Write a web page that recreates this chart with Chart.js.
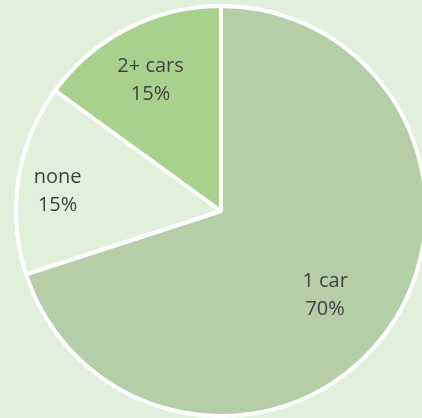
<!DOCTYPE html>
<html lang="en">
<head>
    <meta charset="UTF-8">
    <title>Cars per household</title>
    <script src="https://cdn.jsdelivr.net/npm/chart.js"></script>
    <style>
        html, body {
            margin: 0;
            padding: 0;
            width: 422px;
            height: 418px;
            overflow: hidden;
            background-color: #e2efda;
        }
        .chart-container {
            position: absolute;
            left: 14px;
            top: 4px;
            width: 414px;
            height: 414px;
        }
    </style>
</head>
<body>
    <div class="chart-container">
        <canvas id="carsChart"></canvas>
    </div>

    <script>
// data
const categories = ['1 car', 'none', '2+ cars'];
const shares = [70, 15, 15];
const sliceColors = ['#b4cea8', '#e2efda', '#a9d18e'];

// where each label sits: fraction of the radius and a small angle shift (degrees)
const labelPlace = [
    { f: 0.672, shift: 4.9 },
    { f: 0.80, shift: -4 },
    { f: 0.70, shift: -2.4 }
];

// draws "name / percent" inside each slice
const sliceLabels = {
    id: 'sliceLabels',
    afterDatasetsDraw(chart) {
        const ctx = chart.ctx;
        const meta = chart.getDatasetMeta(0);
        const total = shares.reduce((a, b) => a + b, 0);
        ctx.save();
        ctx.fillStyle = '#404040';
        ctx.font = '20px "Open Sans"';
        ctx.textAlign = 'center';
        ctx.textBaseline = 'alphabetic';
        meta.data.forEach((arc, i) => {
            const p = labelPlace[i];
            const mid = (arc.startAngle + arc.endAngle) / 2 + p.shift * Math.PI / 180;
            const x = arc.x + Math.cos(mid) * arc.outerRadius * p.f;
            const y = arc.y + Math.sin(mid) * arc.outerRadius * p.f;
            const pct = Math.round(shares[i] / total * 100) + '%';
            ctx.fillText(categories[i], x, y - 14);
            ctx.fillText(pct, x, y + 14);
        });
        ctx.restore();
    }
};

new Chart(document.getElementById('carsChart'), {
    type: 'pie',
    data: {
        labels: categories,
        datasets: [{
            data: shares,
            backgroundColor: sliceColors,
            borderColor: '#ffffff',
            borderWidth: 4
        }]
    },
    options: {
        responsive: true,
        maintainAspectRatio: false,
        animation: false,
        layout: { padding: 0 },
        plugins: {
            legend: { display: false },
            tooltip: { enabled: false }
        }
    },
    plugins: [sliceLabels]
});
    </script>
</body>
</html>
